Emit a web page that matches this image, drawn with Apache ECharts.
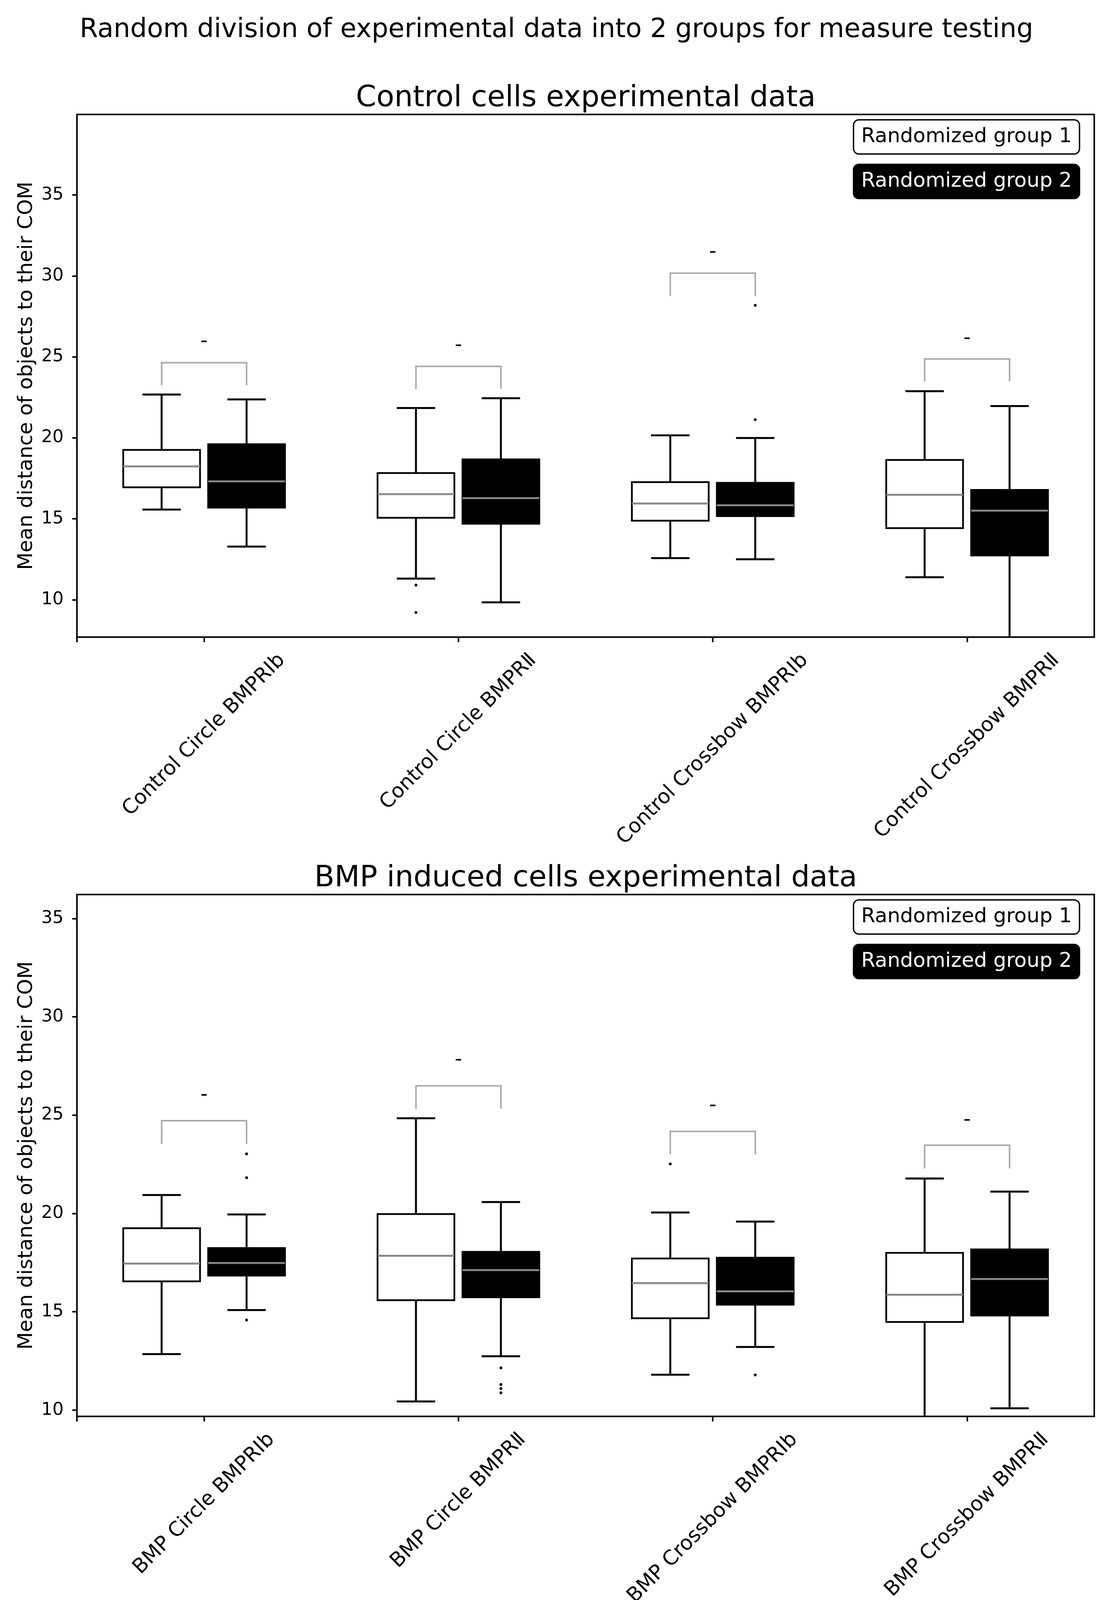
<!DOCTYPE html>
<html>
<head>
<meta charset="utf-8">
<script src="https://cdn.jsdelivr.net/npm/echarts@6/dist/echarts.min.js"></script>
<style>
html,body{margin:0;padding:0;background:#fff;overflow:hidden;}
#chart{width:2850px;height:4132px;}
</style>
</head>
<body>
<div id="chart"></div>
<script>
// ---------------- data ----------------
const suptitleText = 'Random division of experimental data into 2 groups for measure testing';
const controlTitle = 'Control cells experimental data';
const bmpTitle = 'BMP induced cells experimental data';
const yAxisTitle = 'Mean distance of objects to their COM';
const groupNames = ['Randomized group 1', 'Randomized group 2'];

const controlCategories = ['Control Circle BMPRⅠb', 'Control Circle BMPRⅡ', 'Control Crossbow BMPRⅠb', 'Control Crossbow BMPRⅡ'];
const bmpCategories = ['BMP Circle BMPRⅠb', 'BMP Circle BMPRⅡ', 'BMP Crossbow BMPRⅠb', 'BMP Crossbow BMPRⅡ'];

const yTickValues = [10, 15, 20, 25, 30, 35];
const controlYRange = [7.69, 39.97];
const bmpYRange = [9.68, 36.22];

// each box: [lower whisker, Q1, median, Q3, upper whisker]
const controlGroup1Boxes = [
  [15.57, 16.94, 18.23, 19.25, 22.67],
  [11.30, 15.06, 16.52, 17.82, 21.84],
  [12.57, 14.88, 15.94, 17.26, 20.15],
  [11.39, 14.42, 16.48, 18.63, 22.88]
];
const controlGroup2Boxes = [
  [13.28, 15.69, 17.31, 19.60, 22.37],
  [9.84, 14.69, 16.27, 18.67, 22.44],
  [12.50, 15.16, 15.83, 17.22, 19.99],
  [7.30, 12.73, 15.50, 16.78, 21.96]
];
// outliers: [category index, value]
const controlGroup1Outliers = [[1, 10.90], [1, 9.21]];
const controlGroup2Outliers = [[2, 21.12], [2, 28.18]];
// comparison brackets: [category index, arm bottom, bracket top, mark level]
const controlBrackets = [
  [0, 23.25, 24.64, 25.93],
  [1, 23.02, 24.41, 25.70],
  [2, 28.76, 30.17, 31.46],
  [3, 23.48, 24.87, 26.14]
];

const bmpGroup1Boxes = [
  [12.85, 16.55, 17.45, 19.25, 20.94],
  [10.44, 15.59, 17.85, 19.97, 24.84],
  [11.80, 14.67, 16.46, 17.71, 20.05],
  [9.30, 14.48, 15.87, 18.00, 21.78]
];
const bmpGroup2Boxes = [
  [15.09, 16.84, 17.48, 18.24, 19.95],
  [12.74, 15.74, 17.12, 18.05, 20.58],
  [13.21, 15.36, 16.04, 17.75, 19.59],
  [10.09, 14.81, 16.67, 18.17, 21.11]
];
const bmpGroup1Outliers = [[2, 22.52]];
const bmpGroup2Outliers = [[0, 23.03], [0, 21.82], [0, 14.58], [1, 12.15], [1, 11.30], [1, 11.10], [1, 10.88], [2, 11.79]];
const bmpBrackets = [
  [0, 23.54, 24.72, 26.01],
  [1, 25.33, 26.49, 27.80],
  [2, 23.01, 24.17, 25.48],
  [3, 22.29, 23.47, 24.74]
];
const markText = '-';

// ---------------- styling / layout ----------------
const FONT = 'DejaVu Sans';
const LABEL_FAMILY = '"DejaVu Sans", "DejaVu Serif"';
const GROUP_OFFSET = 0.167;   // fraction of category band
const BOX_WIDTH = 0.302;      // fraction of category band
const LABEL_FONT = 52;
const TICK_FONT = 45;

const measureCtx = document.createElement('canvas').getContext('2d');
measureCtx.font = LABEL_FONT + 'px ' + LABEL_FAMILY;

function boxSeries(name, boxes, gi, offset, fill) {
  return {
    type: 'custom', name: name, xAxisIndex: gi * 2, yAxisIndex: gi, clip: true, z: 3,
    data: boxes.map(function (b, i) { return [i].concat(b); }),
    encode: { x: 0, y: [1, 2, 3, 4, 5] },
    renderItem: function (params, api) {
      const ci = api.value(0);
      const band = api.size([1, 0])[0];
      const cx = api.coord([ci, api.value(3)])[0] + offset * band;
      const yv = function (k) { return api.coord([ci, api.value(k)])[1]; };
      const yLow = yv(1), yQ1 = yv(2), yMed = yv(3), yQ3 = yv(4), yHigh = yv(5);
      const bw = BOX_WIDTH * band, cw = bw / 2;
      const ln = function (x1, y1, x2, y2, stroke, lw) {
        return { type: 'line', shape: { x1: x1, y1: y1, x2: x2, y2: y2 }, style: { stroke: stroke, lineWidth: lw } };
      };
      return {
        type: 'group', children: [
          ln(cx, yQ1, cx, yLow, '#000', 5),
          ln(cx - cw / 2, yLow, cx + cw / 2, yLow, '#000', 5),
          ln(cx, yQ3, cx, yHigh, '#000', 5),
          ln(cx - cw / 2, yHigh, cx + cw / 2, yHigh, '#000', 5),
          { type: 'rect', shape: { x: cx - bw / 2, y: yQ3, width: bw, height: yQ1 - yQ3 }, style: { fill: fill, stroke: '#000', lineWidth: 4.5 } },
          ln(cx - bw / 2, yMed, cx + bw / 2, yMed, '#888888', 5)
        ]
      };
    }
  };
}

function outlierSeries(name, pts, gi, offset) {
  return {
    type: 'custom', name: name, xAxisIndex: gi * 2, yAxisIndex: gi, clip: true, z: 4,
    data: pts,
    encode: { x: 0, y: 1 },
    renderItem: function (params, api) {
      const ci = api.value(0);
      const band = api.size([1, 0])[0];
      const p = api.coord([ci, api.value(1)]);
      return { type: 'circle', shape: { cx: p[0] + offset * band, cy: p[1], r: 3.6 }, style: { fill: '#000' } };
    }
  };
}

function bracketSeries(brackets, gi) {
  return {
    type: 'custom', name: 'Comparison', xAxisIndex: gi * 2, yAxisIndex: gi, clip: true, z: 2,
    data: brackets,
    encode: { x: 0, y: [1, 2, 3] },
    renderItem: function (params, api) {
      const ci = api.value(0);
      const band = api.size([1, 0])[0];
      const c = api.coord([ci, api.value(2)]);
      const xl = c[0] - GROUP_OFFSET * band, xr = c[0] + GROUP_OFFSET * band;
      const yArm = api.coord([ci, api.value(1)])[1];
      const yTop = c[1];
      const yMark = api.coord([ci, api.value(3)])[1];
      return {
        type: 'group', children: [
          { type: 'polyline', shape: { points: [[xl, yArm], [xl, yTop], [xr, yTop], [xr, yArm]] }, style: { stroke: '#aaaaaa', lineWidth: 4, fill: null, lineJoin: 'miter' } },
          { type: 'text', x: c[0], y: yMark, style: { text: markText, fontSize: 52, fontFamily: FONT, fill: '#000', align: 'center', verticalAlign: 'middle' } }
        ]
      };
    }
  };
}

// category tick labels, rotated 45° and centred under each tick
function labelSeries(cats, gi, range) {
  return {
    type: 'custom', name: 'Category labels', xAxisIndex: gi * 2, yAxisIndex: gi, clip: false, silent: true, z: 5,
    data: cats.map(function (c, i) { return [i, range[0]]; }),
    encode: { x: 0, y: 1 },
    renderItem: function (params, api) {
      const ci = api.value(0);
      const x = api.coord([ci, api.value(1)])[0];
      const axisY = params.coordSys.y + params.coordSys.height;
      const text = cats[ci];
      const w = measureCtx.measureText(text).width;
      const drop = 30 + (w + LABEL_FONT * 1.164) * Math.SQRT1_2 / 2;
      return {
        type: 'text', x: x, y: axisY + drop, rotation: Math.PI / 4,
        style: { text: text, fontSize: LABEL_FONT, fontFamily: LABEL_FAMILY, fill: '#000', align: 'center', verticalAlign: 'middle' }
      };
    }
  };
}

const grids = [
  { left: 197, right: 48, top: 293, height: 1338 },
  { left: 197, right: 48, top: 2290, height: 1336 }
];

function xAxes(gi, cats) {
  return [
    {
      type: 'category', gridIndex: gi, data: cats, boundaryGap: true, position: 'bottom',
      axisLine: { show: true, onZero: false, lineStyle: { color: '#000', width: 4 } },
      axisTick: { show: true, alignWithLabel: true, interval: 0, length: 13, lineStyle: { color: '#000', width: 4 } },
      axisLabel: { show: false, interval: 0 },
      splitLine: { show: false }
    },
    {
      type: 'value', gridIndex: gi, min: -0.5, max: 3.5, position: 'bottom',
      axisLine: { show: false, onZero: false },
      axisTick: { show: true, length: 13, lineStyle: { color: '#000', width: 4 }, customValues: [-0.5] },
      axisLabel: { show: false, customValues: [-0.5] },
      splitLine: { show: false }
    }
  ];
}

function yAxis(gi, range) {
  return {
    type: 'value', gridIndex: gi, min: range[0], max: range[1], position: 'left',
    splitLine: { show: false },
    axisLine: { show: true, onZero: false, lineStyle: { color: '#000', width: 4 } },
    axisTick: { show: true, length: 12, lineStyle: { color: '#000', width: 4 }, customValues: yTickValues },
    axisLabel: { fontSize: TICK_FONT, color: '#000', margin: 34, fontFamily: FONT, customValues: yTickValues },
    name: yAxisTitle, nameLocation: 'middle', nameGap: 96,
    nameTextStyle: { fontSize: 52, color: '#000', fontFamily: FONT }
  };
}

function legend(top) {
  return {
    top: top, right: 84, orient: 'vertical', itemGap: 23, itemWidth: 0, itemHeight: 0, icon: 'none',
    selectedMode: false, padding: 0,
    textStyle: { fontSize: 52, fontFamily: FONT, lineHeight: 56 },
    data: [
      { name: groupNames[0], textStyle: { color: '#000', backgroundColor: '#fff', borderColor: '#000', borderWidth: 3.5, borderRadius: 12, padding: [14, 18, 14, 18] } },
      { name: groupNames[1], textStyle: { color: '#fff', backgroundColor: '#000', borderColor: '#000', borderWidth: 3.5, borderRadius: 12, padding: [14, 18, 14, 18] } }
    ]
  };
}

const option = {
  animation: false,
  backgroundColor: '#fff',
  textStyle: { fontFamily: FONT },
  title: [
    { text: suptitleText, left: 1425, top: 43, textAlign: 'center', padding: 0, textStyle: { fontSize: 67.5, fontWeight: 'normal', color: '#000', fontFamily: FONT } },
    { text: controlTitle, left: 1500, top: 215, textAlign: 'center', padding: 0, textStyle: { fontSize: 75, fontWeight: 'normal', color: '#000', fontFamily: FONT } },
    { text: bmpTitle, left: 1500, top: 2212, textAlign: 'center', padding: 0, textStyle: { fontSize: 75, fontWeight: 'normal', color: '#000', fontFamily: FONT } }
  ],
  legend: [legend(305), legend(2302)],
  grid: grids.map(function (g) {
    return Object.assign({ show: true, borderColor: '#000', borderWidth: 4, backgroundColor: 'transparent', containLabel: false, outerBoundsMode: 'none' }, g);
  }),
  xAxis: xAxes(0, controlCategories).concat(xAxes(1, bmpCategories)),
  yAxis: [yAxis(0, controlYRange), yAxis(1, bmpYRange)],
  series: [
    bracketSeries(controlBrackets, 0),
    boxSeries(groupNames[0], controlGroup1Boxes, 0, -GROUP_OFFSET, '#fff'),
    boxSeries(groupNames[1], controlGroup2Boxes, 0, GROUP_OFFSET, '#000'),
    outlierSeries(groupNames[0] + ' outliers', controlGroup1Outliers, 0, -GROUP_OFFSET),
    outlierSeries(groupNames[1] + ' outliers', controlGroup2Outliers, 0, GROUP_OFFSET),
    labelSeries(controlCategories, 0, controlYRange),
    bracketSeries(bmpBrackets, 1),
    boxSeries(groupNames[0], bmpGroup1Boxes, 1, -GROUP_OFFSET, '#fff'),
    boxSeries(groupNames[1], bmpGroup2Boxes, 1, GROUP_OFFSET, '#000'),
    outlierSeries(groupNames[0] + ' outliers', bmpGroup1Outliers, 1, -GROUP_OFFSET),
    outlierSeries(groupNames[1] + ' outliers', bmpGroup2Outliers, 1, GROUP_OFFSET),
    labelSeries(bmpCategories, 1, bmpYRange)
  ]
};

const chart = echarts.init(document.getElementById('chart'), null, { renderer: 'canvas', width: 2850, height: 4132 });
chart.setOption(option);
</script>
</body>
</html>
